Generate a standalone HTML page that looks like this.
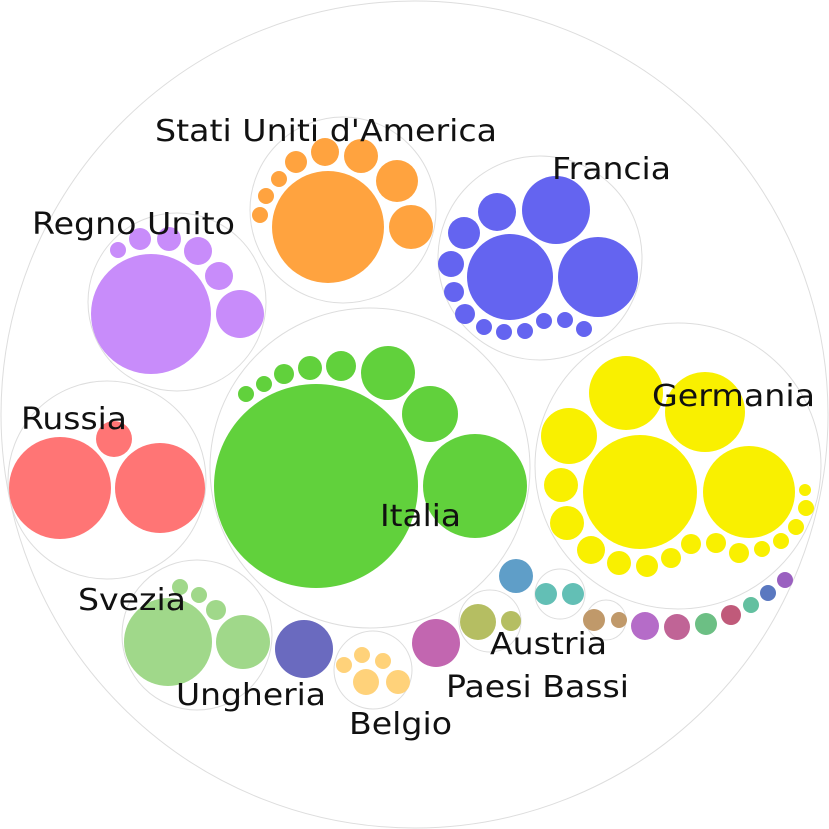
<!DOCTYPE html>
<html><head><meta charset="utf-8"><style>
html,body{margin:0;padding:0;background:#fff;}
svg{display:block;}
text{font-family:"DejaVu Sans","Liberation Sans",sans-serif;font-size:30px;fill:#111;}
.o{fill:none;stroke:#ddd;stroke-width:1;}
</style></head><body>
<svg width="829" height="829" viewBox="0 0 829 829" xmlns="http://www.w3.org/2000/svg">
<circle class="o" cx="414.5" cy="414.5" r="413.5"/>
<!-- outlines -->
<circle class="o" cx="343" cy="210" r="93"/>
<circle class="o" cx="540" cy="258" r="102"/>
<circle class="o" cx="177" cy="302" r="89"/>
<circle class="o" cx="370" cy="468" r="160"/>
<circle class="o" cx="678" cy="466" r="143"/>
<circle class="o" cx="107" cy="480" r="99"/>
<circle class="o" cx="197" cy="635" r="75"/>
<circle class="o" cx="373" cy="670" r="39"/>
<circle class="o" cx="490" cy="621" r="31"/>
<circle class="o" cx="560" cy="594" r="25"/>
<circle class="o" cx="606" cy="620" r="20"/>
<!-- Stati Uniti -->
<g fill="#ffa33f">
<circle cx="328" cy="227" r="56"/><circle cx="397" cy="181" r="21"/><circle cx="411" cy="227" r="22"/>
<circle cx="361" cy="156" r="17"/><circle cx="325" cy="152" r="14"/><circle cx="296" cy="162" r="11"/>
<circle cx="279" cy="179" r="8"/><circle cx="266" cy="196" r="8"/><circle cx="260" cy="215" r="8"/>
</g>
<!-- Francia -->
<g fill="#6464f0">
<circle cx="510" cy="277" r="43"/><circle cx="598" cy="277" r="40"/><circle cx="556" cy="210" r="34"/>
<circle cx="497" cy="212" r="19"/><circle cx="464" cy="233" r="16"/><circle cx="451" cy="264" r="13"/>
<circle cx="454" cy="292" r="10"/><circle cx="465" cy="314" r="10"/><circle cx="484" cy="327" r="8"/>
<circle cx="504" cy="332" r="8"/><circle cx="525" cy="331" r="8"/><circle cx="544" cy="321" r="8"/>
<circle cx="565" cy="320" r="8"/><circle cx="584" cy="329" r="8"/>
</g>
<!-- Regno Unito -->
<g fill="#c88cfa">
<circle cx="151" cy="314" r="60"/><circle cx="240" cy="314" r="24"/><circle cx="219" cy="276" r="14"/>
<circle cx="198" cy="251" r="14"/><circle cx="169" cy="239" r="12"/><circle cx="140" cy="239" r="11"/>
<circle cx="118" cy="250" r="8"/>
</g>
<!-- Italia -->
<g fill="#61d13c">
<circle cx="316" cy="486" r="102"/><circle cx="475" cy="486" r="52"/><circle cx="430" cy="414" r="28"/>
<circle cx="388" cy="373" r="27"/><circle cx="341" cy="366" r="15"/><circle cx="310" cy="368" r="12"/>
<circle cx="284" cy="374" r="10"/><circle cx="264" cy="384" r="8"/><circle cx="246" cy="394" r="8"/>
</g>
<!-- Germania -->
<g fill="#f9f000">
<circle cx="640" cy="492" r="57"/><circle cx="749" cy="492" r="46"/><circle cx="705" cy="412" r="40"/>
<circle cx="626" cy="393" r="37"/><circle cx="569" cy="436" r="28"/><circle cx="561" cy="485" r="17"/>
<circle cx="567" cy="523" r="17"/><circle cx="591" cy="550" r="14"/><circle cx="619" cy="563" r="12"/>
<circle cx="647" cy="566" r="11"/><circle cx="671" cy="558" r="10"/><circle cx="691" cy="544" r="10"/>
<circle cx="716" cy="543" r="10"/><circle cx="739" cy="553" r="10"/><circle cx="762" cy="549" r="8"/>
<circle cx="781" cy="541" r="8"/><circle cx="796" cy="527" r="8"/><circle cx="806" cy="508" r="8"/>
<circle cx="805" cy="490" r="6"/>
</g>
<!-- Russia -->
<g fill="#ff7575">
<circle cx="60" cy="488" r="51"/><circle cx="160" cy="488" r="45"/><circle cx="114" cy="439" r="18"/>
</g>
<!-- Svezia -->
<g fill="#a0d88a">
<circle cx="168" cy="642" r="44"/><circle cx="243" cy="642" r="27"/><circle cx="216" cy="610" r="10"/>
<circle cx="199" cy="595" r="8"/><circle cx="180" cy="587" r="8"/>
</g>
<circle cx="304" cy="649" r="29" fill="#6a6abf"/>
<g fill="#ffd27a">
<circle cx="366" cy="682" r="13"/><circle cx="398" cy="682" r="12"/><circle cx="344" cy="665" r="8"/>
<circle cx="362" cy="655" r="8"/><circle cx="383" cy="661" r="8"/>
</g>
<circle cx="436" cy="643" r="24" fill="#c266b0"/>
<circle cx="478" cy="622" r="18" fill="#b5be62"/><circle cx="511" cy="621" r="10" fill="#b5be62"/>
<circle cx="516" cy="576" r="17" fill="#5f9ec8"/>
<circle cx="546" cy="594" r="11" fill="#63bfb5"/><circle cx="573" cy="594" r="11" fill="#63bfb5"/>
<circle cx="594" cy="620" r="11" fill="#c0996a"/><circle cx="619" cy="620" r="8" fill="#c0996a"/>
<circle cx="645" cy="626" r="14" fill="#b56cc8"/><circle cx="677" cy="627" r="13" fill="#c06496"/>
<circle cx="706" cy="624" r="11" fill="#6cbf84"/><circle cx="731" cy="615" r="10" fill="#c05a7a"/>
<circle cx="751" cy="605" r="8" fill="#63c0a0"/><circle cx="768" cy="593" r="8" fill="#5a78c0"/>
<circle cx="785" cy="580" r="8" fill="#9a60c0"/>
<!-- labels -->
<text x="155" y="141" textLength="342" lengthAdjust="spacingAndGlyphs">Stati Uniti d'America</text>
<text x="552" y="179" textLength="119" lengthAdjust="spacingAndGlyphs">Francia</text>
<text x="32" y="234" textLength="203" lengthAdjust="spacingAndGlyphs">Regno Unito</text>
<text x="21" y="429" textLength="106" lengthAdjust="spacingAndGlyphs">Russia</text>
<text x="652" y="406" textLength="163" lengthAdjust="spacingAndGlyphs">Germania</text>
<text x="380" y="526" textLength="81" lengthAdjust="spacingAndGlyphs">Italia</text>
<text x="78" y="610" textLength="108" lengthAdjust="spacingAndGlyphs">Svezia</text>
<text x="490" y="654" textLength="117" lengthAdjust="spacingAndGlyphs">Austria</text>
<text x="446" y="697" textLength="183" lengthAdjust="spacingAndGlyphs">Paesi Bassi</text>
<text x="176" y="705" textLength="150" lengthAdjust="spacingAndGlyphs">Ungheria</text>
<text x="349" y="734" textLength="103" lengthAdjust="spacingAndGlyphs">Belgio</text>
</svg>
</body></html>
